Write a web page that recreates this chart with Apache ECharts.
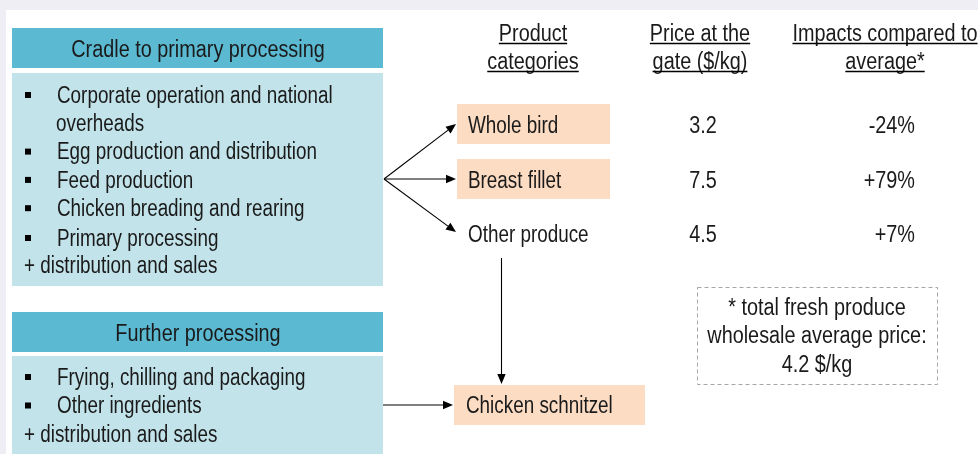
<!DOCTYPE html>
<html><head><meta charset="utf-8">
<script src="https://cdn.jsdelivr.net/npm/echarts@6/dist/echarts.min.js"></script>
<style>html,body{margin:0;padding:0;background:#fff}#c{width:978px;height:454px}</style>
</head><body><div id="c"></div>
<script>
// ---- data ----
const stage1Title = 'Cradle to primary processing';
const stage1Items = ['Corporate operation and national', ' overheads', 'Egg production and distribution', 'Feed production', 'Chicken breading and rearing', 'Primary processing'];
const stage1Bullets = [true, false, true, true, true, true];
const stage1Extra = '+ distribution and sales';
const stage2Title = 'Further processing';
const stage2Items = ['Frying, chilling and packaging', 'Other ingredients'];
const stage2Extra = '+ distribution and sales';
const headers = [['Product', 'categories'], ['Price at the', 'gate ($/kg)'], ['Impacts compared to', 'average*']];
const categories = ['Whole bird', 'Breast fillet', 'Other produce'];
const highlighted = [true, true, false];
const prices = [3.2, 7.5, 4.5];
const impacts = [-24, 79, 7];
const finalProduct = 'Chicken schnitzel';
const noteLines = ['* total fresh produce', 'wholesale average price:', '4.2 $/kg'];

// ---- styling ----
const FONT_FAMILY = '"Liberation Sans", Arial, sans-serif';
const FS = 23;
const FONT = FS + 'px ' + FONT_FAMILY;
const SB = 0.82, SH = 0.862;   // horizontal condensing
const TXT = '#1a1a1a';
const HEAD = '#5bb9d2', BODY = '#c2e3ea', ORANGE = '#fcdcc3';

const cv = document.createElement('canvas').getContext('2d');
cv.font = FONT;
function tw(s, sc) { return cv.measureText(s).width * sc; }

const g = [];
function rect(x, y, w, h, fill, extra) { g.push(Object.assign({ type: 'rect', shape: { x, y, width: w, height: h }, style: { fill } }, extra || {})); }
function text(s, x, y, align, sc) {
  align = align || 'left';
  g.push({ type: 'text', x: x, y: y + 1.5, scaleX: sc || SB, scaleY: 1,
    style: { text: s, x: 0, y: 0, font: FONT, fill: TXT, textAlign: align, align: align, textVerticalAlign: 'middle', verticalAlign: 'middle' } });
}
function line(x1, y1, x2, y2, lw, color, dash) {
  g.push({ type: 'line', shape: { x1, y1, x2, y2 }, style: { stroke: color || '#000', lineWidth: lw || 1, lineDash: dash || null } });
}
function arrow(x1, y1, x2, y2) {
  const L = 10, W = 4.2;
  const dx = x2 - x1, dy = y2 - y1, d = Math.hypot(dx, dy), ux = dx / d, uy = dy / d;
  const bx = x2 - ux * L, by = y2 - uy * L;
  line(x1, y1, bx, by, 1.1, '#000');
  g.push({ type: 'polygon', shape: { points: [[x2, y2], [bx - uy * W, by + ux * W], [bx + uy * W, by - ux * W]] }, style: { fill: '#000' } });
}

// background frame
rect(0, 0, 978, 10, '#eeeef4');
rect(0, 0, 6, 454, '#eeeef4');

// stage 1
rect(12, 28, 371, 40, HEAD);
text(stage1Title, 198, 49, 'center', SH);
rect(12, 73, 371, 213, BODY);
stage1Items.forEach((s, i) => {
  const y = 95 + 28.3 * i + (i === 5 ? 1.5 : 0);
  if (stage1Bullets[i]) rect(25, y - 3, 6, 6, '#000');
  text(s.trim(), stage1Bullets[i] ? 57 : 56, y);
});
text(stage1Extra, 24, 265);

// stage 2
rect(12, 312, 371, 40, HEAD);
text(stage2Title, 198, 333, 'center', SH);
rect(12, 356, 371, 110, BODY);
stage2Items.forEach((s, i) => {
  const y = 377 + 28.5 * i;
  rect(25, y - 3, 6, 6, '#000');
  text(s, 57, y);
});
text(stage2Extra, 24, 434);

// column headers with underline
const headX = [533, 700, 885];
headers.forEach((h, c) => {
  h.forEach((s, r) => {
    const y = 33 + 28 * r;
    text(s, headX[c], y, 'center', SH);
    const w = tw(s, SH);
    line(headX[c] - w / 2, y + 10.5, headX[c] + w / 2, y + 10.5, 1.4, '#000');
  });
});

// product rows
const rowY = [125, 180, 234];
const tipY = [124, 179, 232];
categories.forEach((s, i) => {
  if (highlighted[i]) rect(457, rowY[i] - 21, 153, 40, ORANGE);
  text(s, 468, rowY[i]);
  text(prices[i].toFixed(1), 703, rowY[i], 'center', SH);
  text((impacts[i] > 0 ? '+' : '') + impacts[i] + '%', 915, rowY[i], 'right', SH);
  arrow(384, 179, 456, tipY[i]);
});

// final product
rect(454, 385, 191, 40, ORANGE);
text(finalProduct, 466, 405);
arrow(501.5, 258, 501.5, 384);
arrow(383, 405, 453, 405);

// note box
g.push({ type: 'rect', shape: { x: 697.5, y: 287.5, width: 240, height: 97 }, style: { fill: 'none', stroke: '#a6a6a6', lineWidth: 1, lineDash: [4, 3] } });
noteLines.forEach((s, i) => text(s, 817, 307 + 28.5 * i, 'center', SH));

const chart = echarts.init(document.getElementById('c'), null, { renderer: 'canvas' });
chart.setOption({ backgroundColor: '#ffffff', animation: false, graphic: { elements: g } });
</script></body></html>
